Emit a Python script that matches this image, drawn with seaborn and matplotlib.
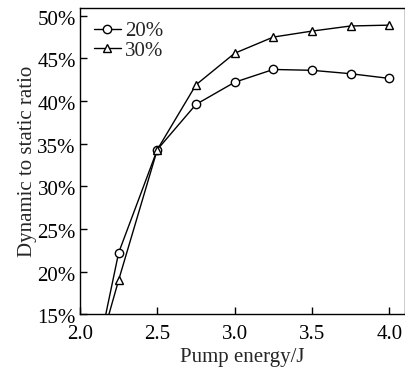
import matplotlib
matplotlib.use("Agg")
import matplotlib.pyplot as plt
import matplotlib.transforms as mtrans
import seaborn as sns
import pandas as pd
from matplotlib.ticker import FuncFormatter

energy = [2.0, 2.25, 2.5, 2.75, 3.0, 3.25, 3.5, 3.75, 4.0]
ratio_20 = [0.5, 22.2, 34.3, 39.6, 42.2, 43.7, 43.6, 43.2, 42.65]
ratio_30 = [3.0, 19.0, 34.3, 41.9, 45.6, 47.5, 48.2, 48.8, 48.9]
series_names = ["20%", "30%"]
series_markers = ["o", "^"]
x_ticks = [2.0, 2.5, 3.0, 3.5, 4.0]
y_ticks = [15, 20, 25, 30, 35, 40, 45, 50]

sns.set_theme(style="ticks")
plt.rcParams['font.family'] = ['Liberation Serif', 'DejaVu Serif']

fig = plt.figure(figsize=(4.06, 3.67), dpi=100)
ax = fig.add_axes([0.197, 0.144, 0.800, 0.834])

for name, vals, mk in zip(series_names, [ratio_20, ratio_30], series_markers):
    df = pd.DataFrame({"x": energy, "y": vals})
    sns.lineplot(data=df, x="x", y="y", ax=ax, color="black", lw=1.0,
                 marker=mk, markersize=6 if mk == "o" else 5.5,
                 markerfacecolor="white", markeredgecolor="black",
                 markeredgewidth=1.0, label=name)

ax.set_xlim(2.0, 4.1)
ax.set_ylim(15, 50.9)
ax.set_xticks(x_ticks)
ax.set_yticks(y_ticks)
ax.xaxis.set_major_formatter(FuncFormatter(lambda v, p: f"{v:.1f}"))
ax.yaxis.set_major_formatter(FuncFormatter(lambda v, p: f"{int(round(v))}%"))
ax.tick_params(direction="in", length=5, width=1, labelsize=15, colors="black")
ax.tick_params(axis="x", pad=8)
ax.tick_params(axis="y", pad=3)
offset = mtrans.ScaledTranslation(0, 5 / 100, fig.dpi_scale_trans)
for lbl in ax.get_yticklabels():
    lbl.set_verticalalignment("top")
    lbl.set_transform(lbl.get_transform() + offset)
for s in ax.spines.values():
    s.set_visible(True)
    s.set_linewidth(1.0)
    s.set_color("black")

ax.set_xlabel("Pump energy/J", fontsize=15, labelpad=3)
ax.set_ylabel("Dynamic to static ratio", fontsize=15, labelpad=0)

leg = ax.legend(loc="upper left", frameon=False, fontsize=15,
                handlelength=1.3, handletextpad=0.2, labelspacing=0.0,
                borderaxespad=0.3, borderpad=0.35)

fig.savefig("out.png", dpi=100)
